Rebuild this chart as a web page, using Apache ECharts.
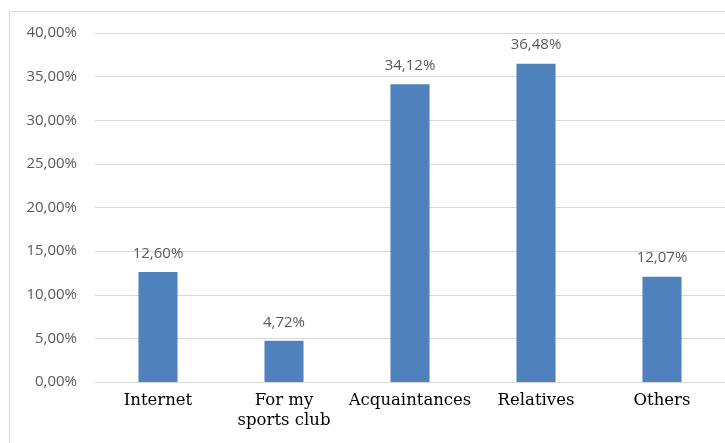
<!DOCTYPE html>
<html><head><meta charset="utf-8">
<script src="https://cdn.jsdelivr.net/npm/echarts@6/dist/echarts.min.js"></script>
<style>html,body{margin:0;padding:0;background:#fff}#c{width:725px;height:443px}</style>
</head><body><div id="c"></div>
<script>
const categories = ['Internet', 'For my\nsports club', 'Acquaintances', 'Relatives', 'Others'];
const values = [12.60, 4.72, 34.12, 36.48, 12.07];
const yMin = 0, yMax = 40, yStep = 5;

const fmt = v => v.toFixed(2).replace('.', ',') + '%';
const chart = echarts.init(document.getElementById('c'), null, {renderer: 'canvas'});
chart.setOption({
  animation: false,
  backgroundColor: '#fff',
  graphic: [{
    type: 'polyline', silent: true,
    shape: {points: [[9.5, 460], [9.5, 11.5], [730, 11.5]]},
    style: {stroke: '#d9d9d9', lineWidth: 1, fill: null}
  }],
  grid: {left: 95, right: 0, top: 33, bottom: 61, containLabel: false},
  xAxis: {
    type: 'category', data: categories,
    axisLine: {show: true, lineStyle: {color: '#d9d9d9', width: 1}},
    axisTick: {show: false},
    axisLabel: {color: '#000', fontFamily: 'DejaVu Serif', fontSize: 16.5, lineHeight: 20, margin: 9, interval: 0}
  },
  yAxis: {
    type: 'value', min: yMin, max: yMax, interval: yStep,
    axisLine: {show: false}, axisTick: {show: false},
    splitLine: {lineStyle: {color: '#d9d9d9', width: 1}},
    axisLabel: {color: '#595959', fontFamily: 'Open Sans', fontSize: 15, margin: 18, formatter: v => fmt(v)}
  },
  series: [{
    type: 'bar', data: values, barWidth: '31%',
    itemStyle: {color: '#4f81bd'},
    label: {show: true, position: 'top', distance: 11, color: '#595959', fontFamily: 'Open Sans', fontSize: 15, formatter: p => fmt(p.value)}
  }]
});
</script></body></html>
